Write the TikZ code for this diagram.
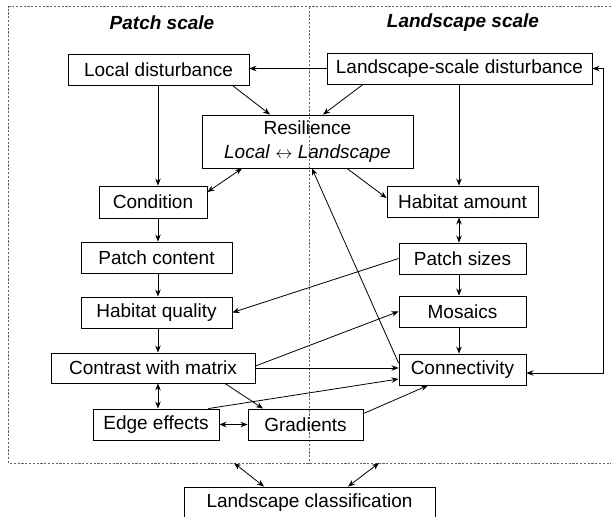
\documentclass[tikz,border=0pt]{standalone}
\usepackage{fontspec}
\setmainfont{Liberation Sans}
\usetikzlibrary{arrows.meta,calc}
\tikzset{
  box/.style={draw, line width=0.9pt, inner sep=0pt, font=\fontsize{19}{22}\selectfont},
  arr/.style={line width=0.8pt, -{Stealth[length=7pt,width=5.5pt]}},
  darr/.style={line width=0.8pt, {Stealth[length=7pt,width=5.5pt]}-{Stealth[length=7pt,width=5.5pt]}},
  frame/.style={line width=0.5pt, gray!80!black, dash pattern=on 2.2pt off 1.6pt},
  title/.style={font=\fontsize{19}{22}\selectfont\bfseries\itshape, inner sep=0pt}
}
\begin{document}
\begin{tikzpicture}[x=1pt,y=-1pt]
\useasboundingbox (0,0) rectangle (611,517);
% frame
\draw[frame] (611,6.7) -- (8.6,6.7) -- (8.6,463) -- (611,463);
\draw[frame] (309,6.7) -- (309,463);
\node[title] (t1) at (162,23) {Patch scale};
\node[title] (t2) at (463,23) {Landscape scale};
% nodes
\node[box, minimum width=181pt, minimum height=31pt] (ld) at (158.5,69.5) {Local disturbance};
\node[box, minimum width=265pt, minimum height=31pt] (lsd) at (459.5,68.5) {Landscape-scale disturbance};
\node[box, minimum width=211pt, minimum height=53pt, align=center, font=\fontsize{19}{23.5}\selectfont] (res) at (307.5,141.5) {Resilience\\\textit{Local} $\leftrightarrow$ \textit{Landscape}};
\node[box, minimum width=108pt, minimum height=32pt] (cond) at (153,202) {Condition};
\node[box, minimum width=151pt, minimum height=31pt] (ha) at (462.5,201.5) {Habitat amount};
\node[box, minimum width=151pt, minimum height=31pt] (pc) at (156.5,257.5) {Patch content};
\node[box, minimum width=127pt, minimum height=31pt] (ps) at (462.5,258.5) {Patch sizes};
\node[box, minimum width=151pt, minimum height=31pt] (hq) at (156.5,312.5) {Habitat quality};
\node[box, minimum width=127pt, minimum height=31pt] (mos) at (462.5,311.5) {Mosaics};
\node[box, minimum width=204pt, minimum height=30pt] (cwm) at (153,368) {Contrast with matrix};
\node[box, minimum width=127pt, minimum height=31pt] (conn) at (462.5,369.5) {Connectivity};
\node[box, minimum width=126pt, minimum height=31pt] (ee) at (156,424.5) {Edge effects};
\node[box, minimum width=115pt, minimum height=31pt] (gr) at (305.5,424.5) {Gradients};
\node[box, minimum width=251pt, minimum height=31pt] (lc) at (309.5,502.5) {Landscape classification};
% helper coordinates
\coordinate (lcol) at (158,0);
\coordinate (rcol) at (459,0);
\coordinate (fb) at (603,0);
\coordinate (c1) at (234,463);
\coordinate (c2) at (379,463);
% connectors
\draw[arr] (lsd.west) -- (lsd.west -| ld.east);
\draw[arr] (ld.south -| lcol) -- (cond.north -| lcol);
\draw[arr] ([xshift=-17pt]ld.south east) -- ([xshift=-37.5pt]res.north);
\draw[arr] ([xshift=-96.5pt]lsd.south) -- ([xshift=15.5pt]res.north);
\draw[arr] (lsd.south -| rcol) -- (ha.north -| rcol);
\draw[darr] ([xshift=-65.5pt]res.south) -- ([yshift=10pt]cond.east);
\draw[arr] ([xshift=39.5pt]res.south) -- ([yshift=3.5pt]ha.west);
\draw[darr] (ha.south -| rcol) -- (ps.north -| rcol);
\draw[arr] (ps.west) -- (hq.east);
\draw[arr] (cond.south -| lcol) -- (pc.north -| lcol);
\draw[arr] (pc.south -| lcol) -- (hq.north -| lcol);
\draw[arr] (hq.south -| lcol) -- (cwm.north -| lcol);
\draw[arr] (ps.south -| rcol) -- (mos.north -| rcol);
\draw[arr] (mos.south -| rcol) -- (conn.north -| rcol);
\draw[arr] ([yshift=2pt]cwm.east) -- (mos.west);
\draw[arr] (cwm.east) -- (cwm.east -| conn.west);
\draw[arr] ([yshift=6.5pt]conn.west) -- ([xshift=4.5pt]res.south);
\draw[darr] ([yshift=-3.5pt]conn.east) -- ([yshift=-3.5pt]conn.east -| fb) |- (lsd.east);
\draw[darr] (cwm.south -| lcol) -- (ee.north -| lcol);
\draw[arr] ([xshift=72pt]cwm.south) -- ([xshift=-42.5pt]gr.north);
\draw[arr] ([xshift=-11pt]ee.north east) -- ([yshift=-9.5pt]conn.west);
\draw[arr] ([yshift=-5pt]gr.north east) -- ([xshift=-34.5pt]conn.south);
\draw[darr] (ee.east) -- (gr.west);
\draw[darr] (c1) -- ([xshift=-45.5pt]lc.north);
\draw[darr] (c2) -- ([xshift=38.5pt]lc.north);
\end{tikzpicture}
\end{document}
